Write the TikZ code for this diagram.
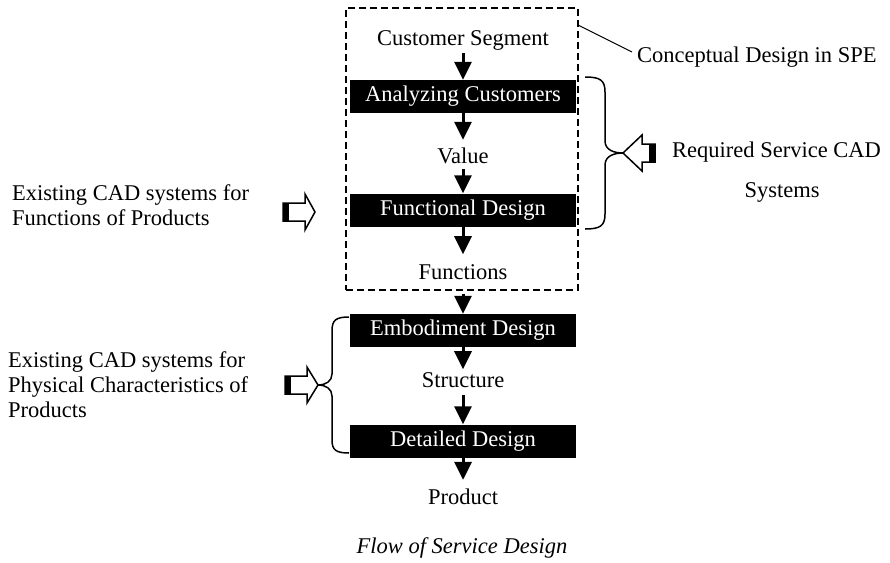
\documentclass[tikz,border=0pt]{standalone}
\usepackage{fontspec}
\setmainfont{Liberation Serif}
\usetikzlibrary{arrows.meta}
\begin{document}
\begin{tikzpicture}[x=1pt,y=-1pt,
  every node/.style={font=\fontsize{22.5}{25}\selectfont},
  lbl/.style={inner sep=3pt},
  blk/.style={fill=black,text=white,minimum width=226pt,minimum height=33pt,inner sep=0pt},
  flow/.style={line width=3pt,-{Triangle[width=17pt,length=18pt]}},
  brc/.style={line width=1.5pt},
  hollow/.style={line width=1.5pt,line join=miter},
  dbox/.style={draw,line width=1.4pt,dash pattern=on 7pt off 4pt,minimum width=232pt,minimum height=282pt,inner sep=0pt}
]
\useasboundingbox (0,0) rectangle (890,562);

% dashed conceptual design box
\node[dbox] (cdbox) at (462,149) {};

% flow nodes
\node[lbl] (cs)  at (463,40)  {Customer Segment};
\node[blk] (ac)  at (463,96.5) {Analyzing Customers};
\node[lbl] (val) at (463,156) {Value};
\node[blk] (fd)  at (463,210) {Functional Design};
\node[lbl] (fun) at (463,272) {Functions};
\node[blk] (ed)  at (463,330.5) {Embodiment Design};
\node[lbl] (st)  at (463,380) {Structure};
\node[blk] (dd)  at (463,441) {Detailed Design};
\node[lbl] (pr)  at (463,497) {Product};

% flow arrows
\draw[flow] (cs) -- (ac);
\draw[flow,shorten >=5pt] (ac) -- (val);
\draw[flow,shorten <=2pt] (val) -- (fd);
\draw[flow,shorten >=7pt] (fd) -- (fun);
\draw[flow,shorten <=11pt] (fun) -- (ed);
\draw[flow] (ed) -- (st);
\draw[flow,shorten <=4pt] (st) -- (dd);
\draw[flow,shorten >=6pt] (dd) -- (pr);

% conceptual design label
\node[lbl,anchor=west] (cdl) at (634,57) {Conceptual Design in SPE};
\coordinate (cdc) at (578,25);
\coordinate (cdend) at (632,52);
\draw[line width=1pt] (cdc) -- (cdend);

% right brace
\draw[brc] (585,77) .. controls (600,77) and (605,80) .. (605,92) -- (605,141)
  .. controls (605,150) and (614,153) .. (623,153)
  .. controls (614,153) and (605,156) .. (605,165) -- (605,214)
  .. controls (605,226) and (600,229) .. (585,229);

% right hollow arrow (pointing left)
\draw[hollow] (655,144) -- (642,144) -- (642,135) -- (623,153) -- (642,171) -- (642,162) -- (655,162) -- cycle;
\fill (649,144) rectangle (655,162);

\node[lbl,anchor=west] (req) at (669,152) {Required Service CAD};
\node[lbl] (sys) at (782,192) {Systems};

% left upper
\node[lbl,anchor=west,align=left] (ex1) at (9,205.5) {Existing CAD systems for\\Functions of Products};
\draw[hollow] (283,203) -- (305,203) -- (305,194) -- (315,212) -- (305,230) -- (305,221) -- (283,221) -- cycle;
\fill (283,203) rectangle (289,221);

% left lower
\node[lbl,anchor=west,align=left] (ex2) at (5,385) {Existing CAD systems for\\Physical Characteristics of\\Products};
\draw[hollow] (285,376) -- (307,376) -- (307,367) -- (318,385) -- (307,403) -- (307,394) -- (285,394) -- cycle;
\fill (285,376) rectangle (291,394);

% left brace
\draw[brc] (349,317) .. controls (336,317) and (332,320) .. (332,331) -- (332,374)
  .. controls (332,381) and (326,385) .. (318,385)
  .. controls (326,385) and (332,389) .. (332,396) -- (332,440)
  .. controls (332,450) and (336,453) .. (349,453);

% caption
\node[lbl] (cap) at (462,548) {\itshape Flow of Service Design};
\end{tikzpicture}
\end{document}
